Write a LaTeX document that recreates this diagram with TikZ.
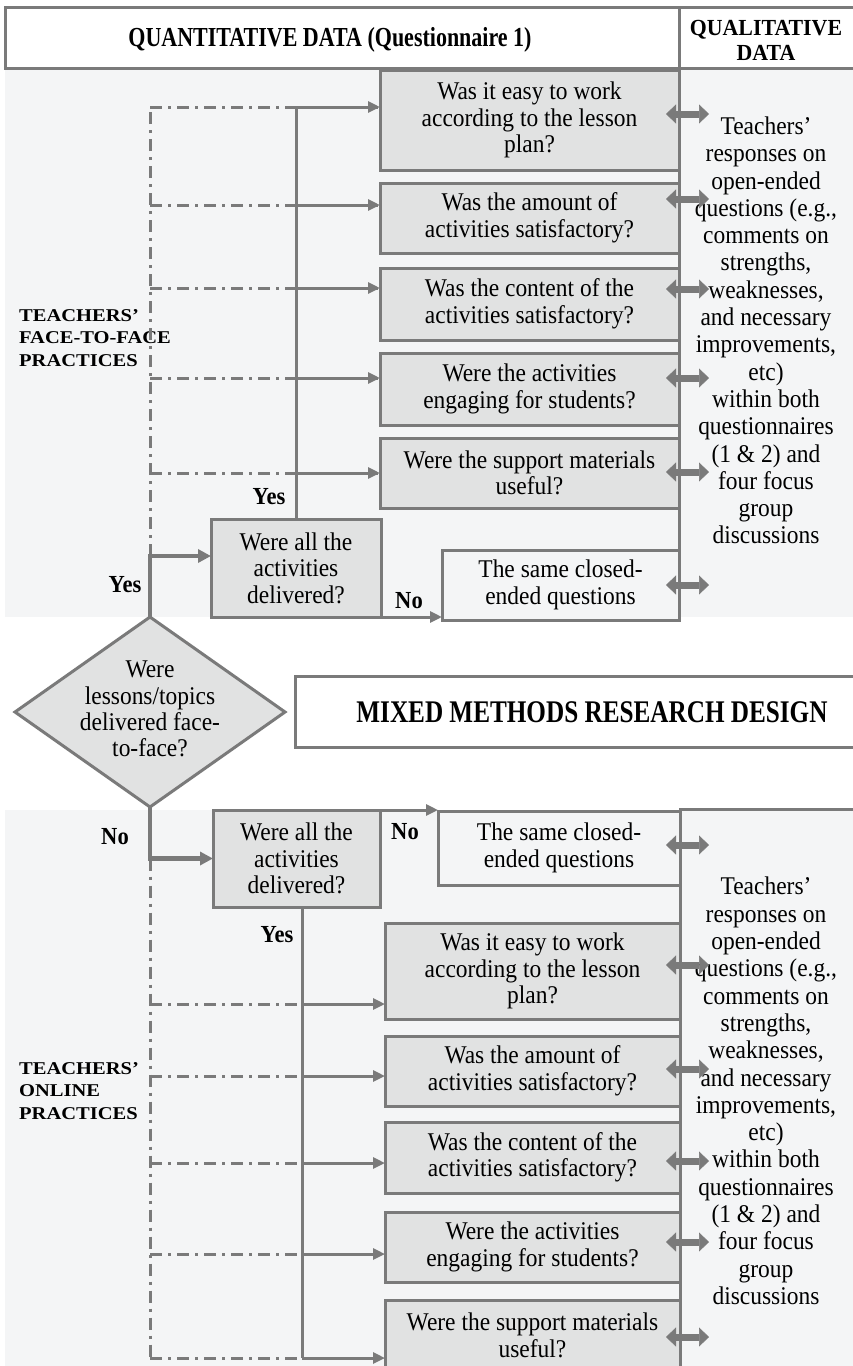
\documentclass[tikz,border=0pt]{standalone}
\usepackage{fontspec}
\setmainfont{Liberation Serif}[FakeStretch=0.92]
\newfontfamily\hdrfont[FakeStretch=0.8]{Liberation Serif}
\newfontfamily\qlfont[FakeStretch=0.95]{Liberation Serif}
\newfontfamily\lblfont[FakeStretch=1.14]{Liberation Serif}
\usetikzlibrary{arrows.meta,shapes.geometric,calc}
\definecolor{bordc}{RGB}{122,122,122}
\definecolor{boxfill}{RGB}{225,226,226}
\definecolor{panel}{RGB}{244,245,246}
\tikzset{
 boxline/.style={draw=bordc, line width=3pt},
 hbox/.style={boxline, fill=white, rectangle, inner sep=0pt, outer sep=0pt},
 qbox/.style={boxline, fill=boxfill, rectangle, inner sep=0pt, outer sep=0pt, align=center, font=\fontsize{25.5}{26.5}\selectfont},
 wbox/.style={qbox, fill=panel},
 conn/.style={draw=bordc, line width=3pt},
 arr/.style={conn, -{Triangle[length=12pt,width=11pt]}},
 thk/.style={draw=bordc, line width=4.5pt, -{Triangle[length=13pt,width=13pt]}},
 dd/.style={draw=bordc, line width=3pt, dash pattern=on 12pt off 6pt on 3pt off 6pt},
 dbl/.style={draw=bordc, line width=7pt, {Triangle[length=10pt,width=19pt,line width=0.5pt]}-{Triangle[length=10pt,width=19pt,line width=0.5pt]}},
 yn/.style={font=\bfseries\fontsize{24.5}{26}\selectfont, inner sep=0pt},
 rtext/.style={align=center, inner sep=0pt, font=\fontsize{25.5}{27.3}\selectfont},
 htxt/.style={inner sep=0pt, font=\hdrfont\bfseries\fontsize{27.5}{30}\selectfont},
 mtxt/.style={inner sep=0pt, align=center, font=\hdrfont\bfseries\fontsize{31.5}{34}\selectfont},
 qtxt/.style={inner sep=0pt, align=center, font=\qlfont\bfseries\fontsize{23}{25}\selectfont},
 lbl/.style={inner sep=0pt, align=left, anchor=west, font=\lblfont\bfseries\fontsize{18}{22.5}\selectfont},
 dtxt/.style={inner sep=0pt, align=center, font=\fontsize{25.5}{26.3}\selectfont},
}
\begin{document}
\begin{tikzpicture}[x=1pt,y=-1pt]
\useasboundingbox (0,0) rectangle (853,1366);
\fill[white] (0,0) rectangle (853,1366);
\fill[panel] (5,68) rectangle (858,617);
\fill[panel] (5,810) rectangle (858,1366);

% header
\node[hbox, minimum width=674pt, minimum height=61pt] (hdrL) at (342,37.5) {};
\node[hbox, minimum width=180pt, minimum height=61pt] (hdrR) at (769,37.5) {};
\node[htxt] (hdrLt) at (330,40) {QUANTITATIVE DATA (Questionnaire 1)};
\node[qtxt] (hdrRt) at (766,40) {QUALITATIVE\\DATA};

% right column borders
\draw[conn] (679,68) -- (679,620);
\draw[conn] (680,1368) -- (680,809) -- (858,809);

% ---------- top section ----------
\node[qbox, minimum width=299pt, minimum height=100pt] (T1) at (529.5,120) {Was it easy to work\\according to the lesson\\plan?};
\node[qbox, minimum width=299pt, minimum height=70pt] (T2) at (529.5,218) {Was the amount of\\activities satisfactory?};
\node[qbox, minimum width=299pt, minimum height=72pt] (T3) at (529.5,304) {Was the content of the\\activities satisfactory?};
\node[qbox, minimum width=299pt, minimum height=72pt] (T4) at (529.5,389) {Were the activities\\engaging for students?};
\node[qbox, minimum width=299pt, minimum height=70pt] (T5) at (529.5,473) {Were the support materials\\useful?};
\node[wbox, minimum width=237pt, minimum height=70pt] (TS) at (560.5,585) {The same closed-\\ended questions};
\node[qbox, minimum width=170pt, minimum height=98pt] (TW) at (296,568) {Were all the\\activities\\delivered?};

\node[rtext] (RT) at (766,330.5) {Teachers’\\responses on\\open-ended\\questions (e.g.,\\comments on\\strengths,\\weaknesses,\\and necessary\\improvements,\\etc)\\within both\\questionnaires\\(1 \& 2) and\\four focus\\group\\discussions};

\node[lbl] (LT) at (19,338) {TEACHERS’\\FACE-TO-FACE\\PRACTICES};

% diamond and mixed methods
\node[diamond, draw=bordc, line width=3pt, fill=boxfill, minimum width=270pt, minimum height=190pt, inner sep=0pt, outer sep=0pt] (dia) at (150,712) {};
\node[dtxt] (diat) at (150,709) {Were\\lessons/topics\\delivered face-\\to-face?};
\node[hbox, minimum width=594pt, minimum height=71pt] (MX) at (592,711.5) {};
\node[mtxt] (MXt) at (592,712) {MIXED METHODS RESEARCH DESIGN};

% top connectors
\coordinate (a1) at ([yshift=13pt]T1.west);
\coordinate (a2) at ([yshift=13pt]T2.west);
\coordinate (a3) at ([yshift=16pt]T3.west);
\coordinate (a4) at ([yshift=11pt]T4.west);
\coordinate (a5) at (T5.west);
\coordinate (twin) at ([yshift=12pt]TW.west);
\coordinate (jT) at (dia.north |- twin);
\draw[dd] (jT) -- (jT |- a1);
\foreach \k in {1,...,5}{\draw[dd] (jT |- a\k) -- (a\k);}
\draw[conn] (TW.north) -- (TW.north |- a1);
\foreach \k in {1,...,5}{\draw[arr] (TW.north |- a\k) -- (a\k);}
\draw[thk] (dia.north) |- (twin);
\draw[arr] (TW.south east) -- (TW.south east -| TS.west);

\node[yn] (yT1) at (125,585) {Yes};
\node[yn] (yT2) at (269,497) {Yes};
\node[yn] (nT) at (409,601) {No};

% ---------- bottom section ----------
\node[qbox, minimum width=167pt, minimum height=97pt] (BW) at (296.5,858.5) {Were all the\\activities\\delivered?};
\node[wbox, minimum width=242pt, minimum height=74pt] (BS) at (559,848) {The same closed-\\ended questions};
\node[qbox, minimum width=295pt, minimum height=96pt] (B1) at (532.5,971) {Was it easy to work\\according to the lesson\\plan?};
\node[qbox, minimum width=295pt, minimum height=70pt] (B2) at (532.5,1071) {Was the amount of\\activities satisfactory?};
\node[qbox, minimum width=295pt, minimum height=71pt] (B3) at (532.5,1157.5) {Was the content of the\\activities satisfactory?};
\node[qbox, minimum width=295pt, minimum height=70pt] (B4) at (532.5,1247) {Were the activities\\engaging for students?};
\node[qbox, minimum width=295pt, minimum height=71pt] (B5) at (532.5,1335.5) {Were the support materials\\useful?};

\node[rtext] (RB) at (766,1091) {Teachers’\\responses on\\open-ended\\questions (e.g.,\\comments on\\strengths,\\weaknesses,\\and necessary\\improvements,\\etc)\\within both\\questionnaires\\(1 \& 2) and\\four focus\\group\\discussions};

\node[lbl] (LB) at (19,1091) {TEACHERS’\\ONLINE\\PRACTICES};

\coordinate (b1) at ([yshift=-33pt]B1.west);
\coordinate (b2) at ([yshift=-5pt]B2.west);
\coordinate (b3) at ([yshift=-5.5pt]B3.west);
\coordinate (b4) at ([yshift=-7pt]B4.west);
\coordinate (b5) at ([yshift=-22.5pt]B5.west);
\coordinate (jB) at (dia.south |- BW.west);
\coordinate (tB) at ([xshift=5.5pt]BW.south);
\draw[dd] (jB) -- (jB |- b5);
\foreach \k in {1,...,5}{\draw[dd] (jB |- b\k) -- (b\k);}
\draw[conn] (tB) -- (tB |- b5);
\foreach \k in {1,...,5}{\draw[arr] (tB |- b\k) -- (b\k);}
\draw[thk] (dia.south) |- (BW.west);
\draw[arr] (BW.north east) -- (BW.north east -| BS.west);

\node[yn] (nB1) at (115,837) {No};
\node[yn] (nB2) at (405,832) {No};
\node[yn] (yB) at (277,935) {Yes};

% double arrows
\draw[dbl] ([xshift=-13pt,yshift=6pt]T1.east) -- ([xshift=30pt,yshift=6pt]T1.east);
\draw[dbl] ([xshift=-13pt,yshift=19pt]T2.east) -- ([xshift=30pt,yshift=19pt]T2.east);
\draw[dbl] ([xshift=-13pt,yshift=15pt]T3.east) -- ([xshift=30pt,yshift=15pt]T3.east);
\draw[dbl] ([xshift=-13pt,yshift=11pt]T4.east) -- ([xshift=30pt,yshift=11pt]T4.east);
\draw[dbl] ([xshift=-13pt,yshift=1pt]T5.east) -- ([xshift=30pt,yshift=1pt]T5.east);
\draw[dbl] ([xshift=-13pt]TS.east) -- ([xshift=30pt]TS.east);
\draw[dbl] ([xshift=-14pt,yshift=3pt]BS.east) -- ([xshift=29pt,yshift=3pt]BS.east);
\draw[dbl] ([xshift=-14pt,yshift=6pt]B1.east) -- ([xshift=29pt,yshift=6pt]B1.east);
\draw[dbl] ([xshift=-14pt,yshift=2pt]B2.east) -- ([xshift=29pt,yshift=2pt]B2.east);
\draw[dbl] ([xshift=-14pt,yshift=-3.5pt]B3.east) -- ([xshift=29pt,yshift=-3.5pt]B3.east);
\draw[dbl] ([xshift=-14pt,yshift=5pt]B4.east) -- ([xshift=29pt,yshift=5pt]B4.east);
\draw[dbl] ([xshift=-14pt,yshift=-1.5pt]B5.east) -- ([xshift=29pt,yshift=-1.5pt]B5.east);
\end{tikzpicture}
\end{document}
